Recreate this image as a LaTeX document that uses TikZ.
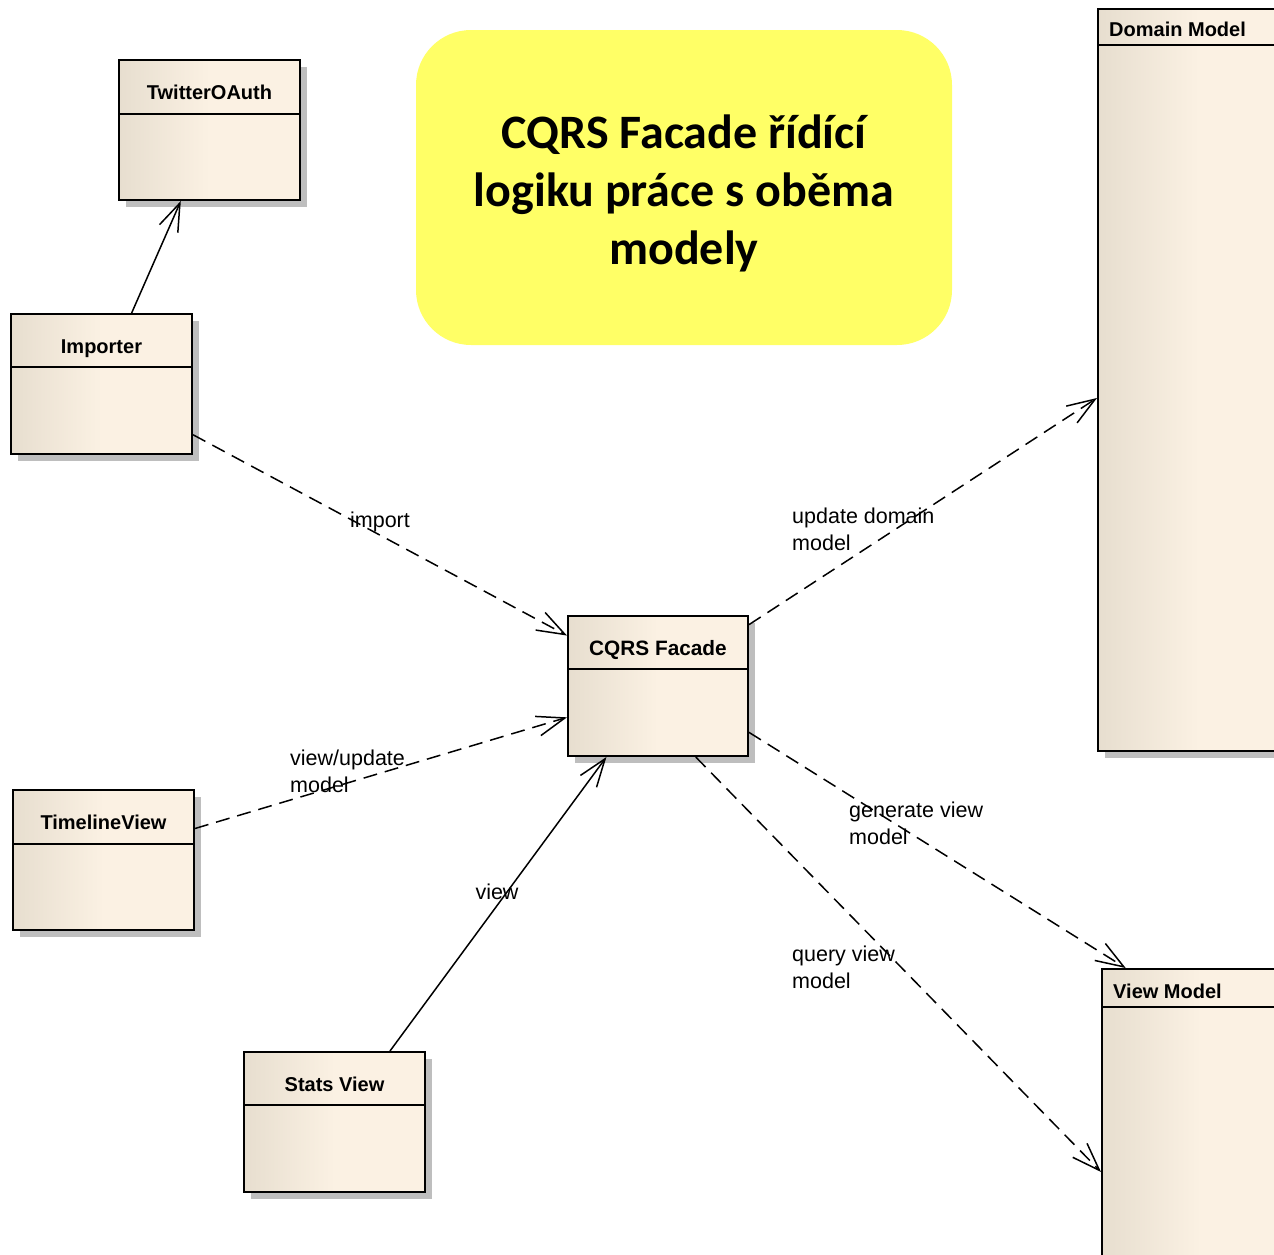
\documentclass[tikz,border=0pt]{standalone}
\usepackage{fontspec}
\setmainfont{Liberation Sans}
\newfontfamily\notefont{Carlito}
\usetikzlibrary{arrows.meta,shadows}

\definecolor{classdark}{RGB}{231,222,207}
\definecolor{classlight}{RGB}{251,241,227}
\definecolor{shadowgray}{RGB}{190,190,190}
\definecolor{noteyellow}{RGB}{255,255,102}

\tikzset{
  classbox/.style={draw, line width=2pt, left color=classdark, right color=classlight,
    middle color=classlight,
    drop shadow={shadow xshift=7pt, shadow yshift=-7pt, fill=shadowgray, opacity=1}},
  classtitle/.style={font=\bfseries\fontsize{20}{24}\selectfont, inner sep=0pt,
    text height=26pt, text depth=0pt},
  divider/.style={line width=2pt},
  notebox/.style={fill=noteyellow, rounded corners=55pt, align=center,
    font=\notefont\bfseries\fontsize{48}{58}\selectfont},
  assoc/.style={line width=1.5pt, -{Straight Barb[length=28pt,width=20pt]}},
  dep/.style={assoc, dash pattern=on 14pt off 8pt},
  lbl/.style={font=\fontsize{21.5}{27}\selectfont, inner sep=0pt, align=left}
}

\begin{document}
\begin{tikzpicture}[x=1pt,y=-1pt]
    \useasboundingbox (0,0) rectangle (1274,1254);

    % note
    \node[notebox, minimum width=536pt, minimum height=315pt] (note) at (684,187.5)
        {\rule{0pt}{45pt}CQRS Facade řídící\\logiku práce s oběma\\modely};

    % classes
    \node[classbox, minimum width=181pt, minimum height=140pt] (twitter) at (209.5,130) {};
    \node[classtitle, minimum height=55pt, anchor=north] (twittertitle) at (twitter.north) {TwitterOAuth};
    \draw[divider] (twittertitle.south -| twitter.west) -- (twittertitle.south -| twitter.east);

    \node[classbox, minimum width=181pt, minimum height=140pt] (importer) at (101.5,384) {};
    \node[classtitle, minimum height=54pt, anchor=north] (importertitle) at (importer.north) {Importer};
    \draw[divider] (importertitle.south -| importer.west) -- (importertitle.south -| importer.east);

    \node[classbox, minimum width=181pt, minimum height=140pt] (timeline) at (103.5,860) {};
    \node[classtitle, minimum height=55pt, anchor=north] (timelinetitle) at (timeline.north) {TimelineView};
    \draw[divider] (timelinetitle.south -| timeline.west) -- (timelinetitle.south -| timeline.east);

    \node[classbox, minimum width=181pt, minimum height=140pt] (stats) at (334.5,1122) {};
    \node[classtitle, minimum height=54pt, anchor=north] (statstitle) at (stats.north) {Stats View};
    \draw[divider] (statstitle.south -| stats.west) -- (statstitle.south -| stats.east);

    \node[classbox, minimum width=180pt, minimum height=140pt] (cqrs) at (658,686) {};
    \node[classtitle, minimum height=54pt, anchor=north, font=\bfseries\fontsize{20.8}{24}\selectfont] (cqrstitle) at (cqrs.north) {CQRS Facade};
    \draw[divider] (cqrstitle.south -| cqrs.west) -- (cqrstitle.south -| cqrs.east);

    \node[classbox, minimum width=202pt, minimum height=742pt] (domain) at (1199,380) {};
    \node[classtitle, minimum height=37pt, text height=19pt, anchor=north west, inner xsep=12pt] (domaintitle) at (domain.north west) {Domain Model};
    \draw[divider] (domaintitle.south -| domain.west) -- (domaintitle.south -| domain.east);

    \node[classbox, minimum width=198pt, minimum height=321pt] (viewmodel) at (1201,1129.5) {};
    \node[classtitle, minimum height=39pt, text height=21pt, anchor=north west, inner xsep=12pt] (viewmodeltitle) at (viewmodel.north west) {View Model};
    \draw[divider] (viewmodeltitle.south -| viewmodel.west) -- (viewmodeltitle.south -| viewmodel.east);

    % connectors
    \draw[assoc] (importer.67) -- (twitter.248);
    \draw[dep] (importer.331) -- (cqrs.151);
    \draw[dep] (timeline.19) -- (cqrs.199);
    \draw[assoc] (stats.52) -- (cqrs.234);
    \draw[dep] (cqrs.34) -- (domain.190);
    \draw[dep] (cqrs.333) -- (viewmodel.115);
    \draw[dep] (cqrs.298) -- (viewmodel.203);

    % labels
    \node[lbl] (importlbl) at (380,522) {import};
    \node[lbl, anchor=north west] (timelinelbl) at (290,750) {view/update\\model};
    \node[lbl] (statslbl) at (497,892) {view};
    \node[lbl, anchor=north west] (domainlbl) at (792,508) {update domain\\model};
    \node[lbl, anchor=north west] (generatelbl) at (849,802) {generate view\\model};
    \node[lbl, anchor=north west] (querylbl) at (792,946) {query view\\model};
\end{tikzpicture}
\end{document}
